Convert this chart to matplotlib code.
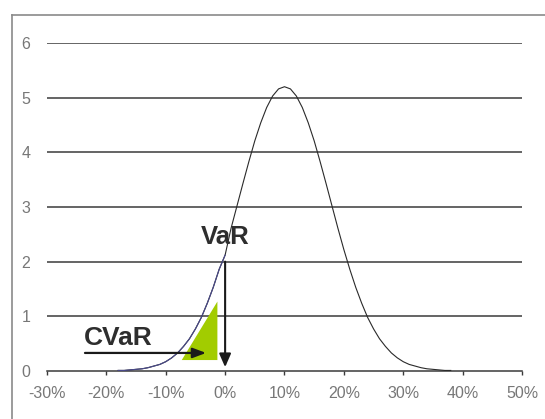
import matplotlib
matplotlib.use("Agg")
import matplotlib.pyplot as plt
from matplotlib.lines import Line2D

plt.rcParams["font.family"] = ["Liberation Sans", "DejaVu Sans"]

# return distribution (x as fraction, density)
ret_x = [-0.18, -0.17, -0.16, -0.15, -0.14, -0.13, -0.12, -0.11, -0.10, -0.09,
         -0.08, -0.07, -0.06, -0.05, -0.04, -0.03, -0.02, -0.01, 0.00, 0.01,
         0.02, 0.03, 0.04, 0.05, 0.06, 0.07, 0.08, 0.09, 0.10, 0.11,
         0.12, 0.13, 0.14, 0.15, 0.16, 0.17, 0.18, 0.19, 0.20, 0.21,
         0.22, 0.23, 0.24, 0.25, 0.26, 0.27, 0.28, 0.29, 0.30, 0.31,
         0.32, 0.33, 0.34, 0.35, 0.36, 0.37, 0.38]
density = [0.01, 0.01, 0.02, 0.03, 0.04, 0.06, 0.09, 0.12, 0.17, 0.24,
           0.33, 0.45, 0.59, 0.77, 0.98, 1.24, 1.53, 1.86, 2.12, 2.61,
           3.02, 3.43, 3.83, 4.21, 4.54, 4.82, 5.03, 5.16, 5.20, 5.16,
           5.03, 4.82, 4.54, 4.21, 3.83, 3.43, 3.02, 2.61, 2.22, 1.86,
           1.53, 1.24, 0.98, 0.77, 0.59, 0.45, 0.33, 0.24, 0.17, 0.12,
           0.09, 0.06, 0.04, 0.03, 0.02, 0.01, 0.01]

# shaded tail (CVaR region) and the two arrows
cvar_x = [-0.073, -0.013, -0.013]
cvar_y = [0.20, 1.27, 0.20]
var_x = 0.0
var_top = 2.0
cvar_arrow_x = [-0.236, -0.032]
cvar_arrow_y = 0.33

xticks = [-0.3, -0.2, -0.1, 0.0, 0.1, 0.2, 0.3, 0.4, 0.5]
xlabels = ["-30%", "-20%", "-10%", "0%", "10%", "20%", "30%", "40%", "50%"]
yticks = [0, 1, 2, 3, 4, 5, 6]

fig = plt.figure(figsize=(5.45, 4.19), dpi=100)
ax = fig.add_axes([0.0862, 0.1146, 0.8716, 0.7828])

# outer chart frame (top and left edges visible)
fig.add_artist(Line2D([12 / 545, 12 / 545], [0, 1 - 15 / 419], transform=fig.transFigure,
                      color="#8a8a8a", lw=1.2))
fig.add_artist(Line2D([12 / 545, 1], [1 - 15 / 419, 1 - 15 / 419], transform=fig.transFigure,
                      color="#8a8a8a", lw=1.2))

for y in yticks[1:]:
    ax.axhline(y, color="#3a3a3a", lw=1.1, zorder=1)

ax.fill(cvar_x, cvar_y, color="#a2cc00", lw=0, zorder=2)
ax.plot(ret_x, density, color="#2a2a2a", lw=0.8, zorder=3)
tail = [i for i, v in enumerate(ret_x) if v <= 0]
ax.plot([ret_x[i] for i in tail], [density[i] for i in tail], color="#4a4a8c", lw=0.8, zorder=3)

ax.annotate("", xy=(var_x, 0.07), xytext=(var_x, var_top),
            arrowprops=dict(arrowstyle="-|>,head_length=0.8,head_width=0.35",
                            color="#1a1a1a", lw=1.5, shrinkA=0, shrinkB=0), zorder=4)
ax.annotate("", xy=(cvar_arrow_x[1], cvar_arrow_y), xytext=(cvar_arrow_x[0], cvar_arrow_y),
            arrowprops=dict(arrowstyle="-|>,head_length=0.8,head_width=0.3",
                            color="#1a1a1a", lw=1.6, shrinkA=0, shrinkB=0), zorder=4)

ax.text(0.0, 2.45, "VaR", fontsize=18.5, fontweight="bold", color="#2e2e2e",
        ha="center", va="center")
ax.text(-0.18, 0.60, "CVaR", fontsize=19, fontweight="bold", color="#2e2e2e",
        ha="center", va="center")

ax.set_xlim(-0.3, 0.5)
ax.set_ylim(0, 6)
ax.set_xticks(xticks)
ax.set_xticklabels(xlabels)
ax.set_yticks(yticks)
ax.tick_params(axis="x", direction="out", length=3, width=1, color="#3a3a3a",
               pad=8, labelsize=11.5, labelcolor="#777777")
ax.tick_params(axis="y", length=0, pad=12, labelsize=11.5, labelcolor="#777777")
for s in ["top", "right", "left"]:
    ax.spines[s].set_visible(False)
ax.spines["bottom"].set_color("#3a3a3a")
ax.spines["bottom"].set_linewidth(1.1)
ax.set_facecolor("none")

fig.savefig("out.png", dpi=100)
